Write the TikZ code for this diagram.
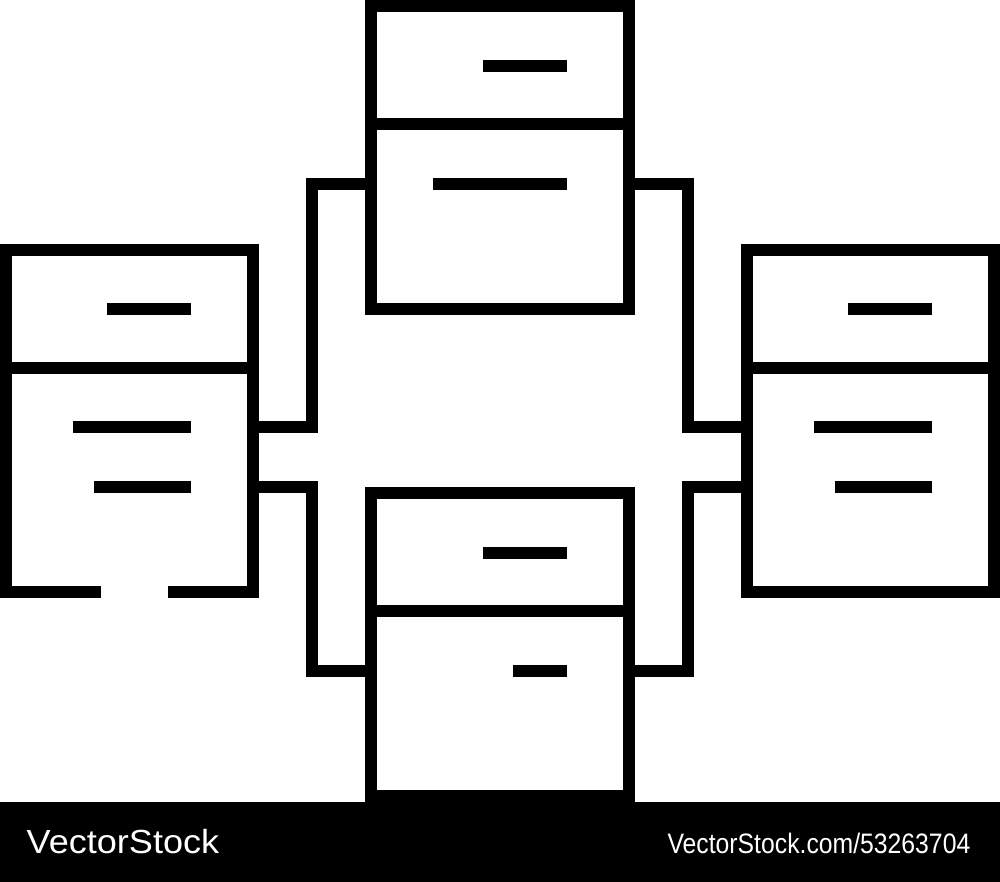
\documentclass[tikz,border=0pt]{standalone}
\usepackage{fontspec}
\newfontfamily\wmfont{Liberation Sans}
\usetikzlibrary{calc}

\begin{document}
\begin{tikzpicture}[x=0.01cm, y=-0.01cm]
\tikzstyle{cab}=[rectangle, inner sep=0pt, outer sep=0pt, line width=0.12cm]
\tikzstyle{wide}=[cab, minimum width=2.57cm, minimum height=3.03cm, draw=black]
\tikzstyle{tall}=[cab, minimum width=2.465cm, minimum height=3.42cm]
\tikzstyle{line}=[line width=0.12cm, line join=miter]
\tikzstyle{wm}=[text=white, inner sep=0pt, font=\wmfont]
  \useasboundingbox (0,0) rectangle (1000,882);
  \node[wide] (tc) at (500,157.5) {};
  \node[wide] (bc) at (500,644.5) {};
  \node[tall] (lc) at (129.25,421) {};
  \node[tall, draw=black] (rc) at (870.5,421) {};
  % left cabinet is open at the bottom
  \draw[line] ($(lc.south west)+(95,0)$) -- (lc.south west) -- (lc.north west)
        -- (lc.north east) -- (lc.south east) -- ($(lc.south east)+(-84.5,0)$);
  % drawers
  \foreach \c in {tc,bc,lc,rc}
    \draw[line] ($(\c.north west)+(0,118)$) -- ($(\c.north east)+(0,118)$);
  % handles
  \foreach \c/\r/\l in {tc/60/84, tc/178/134, bc/60/84, bc/178/54,
                        lc/59/84, lc/177.5/118, lc/237/97,
                        rc/59/84, rc/177.5/118, rc/237/97}
    \draw[line] ($(\c.north east)+(-61.5,\r)$) -- ++(-\l,0);
  % links
  \coordinate (tc-a) at ($(tc.north west)+(0,178)$);
  \coordinate (tc-b) at ($(tc.north east)+(0,178)$);
  \coordinate (bc-a) at ($(bc.north west)+(0,178)$);
  \coordinate (bc-b) at ($(bc.north east)+(0,178)$);
  \coordinate (lc-a) at ($(lc.north east)+(0,177.5)$);
  \coordinate (lc-b) at ($(lc.north east)+(0,237)$);
  \coordinate (rc-a) at ($(rc.north west)+(0,177.5)$);
  \coordinate (rc-b) at ($(rc.north west)+(0,237)$);
  \coordinate (m-l) at ($(lc.east)!.5!(tc.west)$);
  \coordinate (m-r) at ($(tc.east)!.5!(rc.west)$);
  \draw[line] (lc-a) -| (m-l |- tc-a) -- (tc-a);
  \draw[line] (lc-b) -| (m-l |- bc-a) -- (bc-a);
  \draw[line] (rc-a) -| (m-r |- tc-b) -- (tc-b);
  \draw[line] (rc-b) -| (m-r |- bc-b) -- (bc-b);
  % watermark strip
  \node[fill=black, inner sep=0pt, minimum width=10.2cm, minimum height=0.88cm,
        anchor=north west] (strip) at (-10,801) {};
  \node[wm, anchor=base west] (brand) at (26,853)
        {\fontsize{9.5}{11}\selectfont\scalebox{1.08}[1]{VectorStock}};
  \node[wm, anchor=base east] (ref) at (971,853)
        {\fontsize{8}{10}\selectfont\scalebox{0.88}[1]{VectorStock.com/53263704}};
\end{tikzpicture}
\end{document}
